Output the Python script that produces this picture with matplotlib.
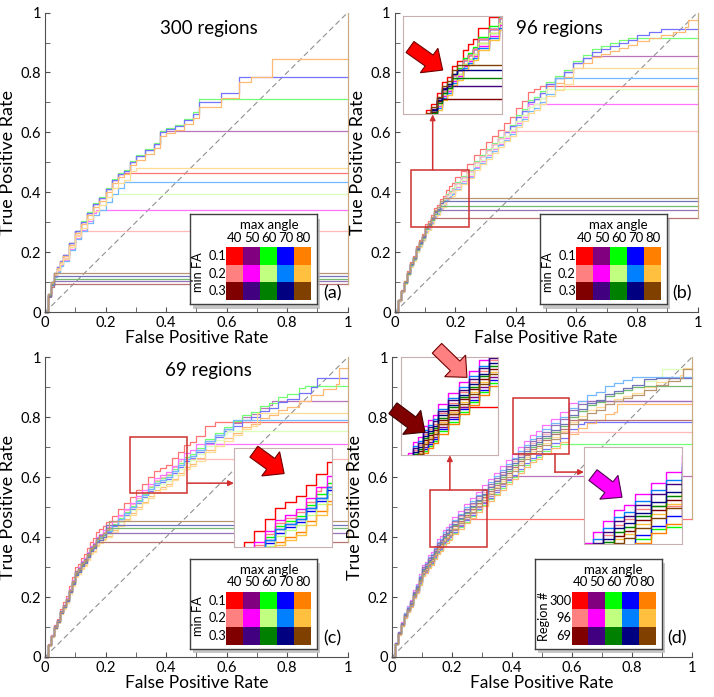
import matplotlib
matplotlib.use('Agg')
import matplotlib.pyplot as plt
import matplotlib.patches as mpatches
import matplotlib.colors as mcolors
import numpy as np

plt.rcParams['font.family'] = ['Lato', 'DejaVu Sans']

# colour of each curve: rows = min FA (or region #), columns = max angle
colors = [['#FF0000', '#800080', '#00FF00', '#0000FF', '#FF8000'],
          ['#FF8080', '#FF00FF', '#C0FF80', '#0080FF', '#FFC040'],
          ['#800000', '#400080', '#008000', '#000080', '#804000']]
angles = ['40', '50', '60', '70', '80']
fa_rows = ['0.1', '0.2', '0.3']
region_rows = ['300', '96', '69']

# panel (a): 300 regions
fpr_a = [0, .01, .02, .03, .04, .05, .06, .08, .1, .12, .14, .16, .18, .2, .22, .24, .26, .28, .3,
         .33, .36, .38, .4, .43, .46, .49, .51, .55, .58, .61, .64, .68, .75, 1.0]
tpr_a = [0, .06, .1, .13, .15, .17, .19, .23, .27, .3, .33, .36, .38, .41, .44, .46, .47, .5, .52,
         .54, .56, .6, .61, .62, .64, .66, .7, .7, .73, .73, .785, .8, .845, .845]
scale_a = [[1.0, 1.0, 1.01, 1.0, 0.98], [0.95, 0.92, 0.9, 0.9, 0.94], [0.85, 0.9, 0.95, 0.92, 1.0]]
end_fpr_a = [[0.27, 0.38, 0.51, 0.64, 0.75], [0.12, 0.17, 0.29, 0.26, 0.30], [0.04, 0.04, 0.045, 0.045, 0.035]]
end_tpr_a = [[0.465, 0.605, 0.71, 0.785, 0.845], [0.27, 0.34, 0.395, 0.435, 0.48], [0.095, 0.105, 0.11, 0.12, 0.13]]

# shared fpr grid for (b), (c), (d)
fpr_grid = [0, .01, .02, .03, .04, .05, .06, .07, .08, .09, .10, .11, .12, .13, .14, .15, .16, .17, .18, .19, .20,
            .22, .24, .26, .28, .30, .32, .34, .36, .38, .40, .42, .44, .46, .48, .50,
            .53, .56, .59, .62, .65, .68, .71, .74, .77, .80, .84, .88, .92, .96, 1.0]

# panel (b): 96 regions
tpr_b = [0, .04, .07, .1, .13, .16, .18, .21, .23, .25, .28, .29, .31, .33, .34, .36, .37, .39, .40, .41, .43,
         .45, .47, .50, .52, .54, .56, .58, .60, .62, .65, .67, .70, .71, .73, .76,
         .78, .80, .83, .85, .87, .88, .89, .90, .91, .925, .935, .945, .955, .97, .98]
scale_b = [[1.05, 1.0, 1.01, 1.0, 0.98], [1.0, 0.97, 0.98, 0.96, 0.95], [1.0, 1.02, 0.99, 1.01, 1.03]]
end_fpr_b = [[0.53, 0.65, 0.82, 0.88, 0.97], [0.36, 0.44, 0.50, 0.53, 0.59], [0.14, 0.15, 0.155, 0.165, 0.17]]
end_tpr_b = [[0.755, 0.855, 0.915, 0.945, 0.975], [0.605, 0.695, 0.745, 0.78, 0.815], [0.315, 0.34, 0.355, 0.37, 0.38]]

# panel (c): 69 regions
tpr_c = [0, .04, .07, .1, .12, .15, .17, .19, .22, .25, .28, .29, .31, .32, .34, .36, .37, .39, .40, .41, .42,
         .44, .46, .48, .50, .52, .54, .56, .58, .59, .60, .62, .64, .66, .67, .69,
         .72, .74, .76, .78, .80, .81, .83, .84, .86, .87, .89, .91, .93, .95, .965]
scale_c = [[1.07, 1.0, 1.01, 0.99, 0.96], [1.02, 1.03, 0.98, 1.0, 0.95], [1.0, 1.02, 0.99, 0.98, 1.01]]
end_fpr_c = [[0.62, 0.75, 0.86, 0.9, 0.97], [0.45, 0.5, 0.6, 0.62, 0.7], [0.18, 0.19, 0.2, 0.2, 0.21]]
end_tpr_c = [[0.785, 0.855, 0.905, 0.93, 0.965], [0.66, 0.71, 0.755, 0.79, 0.815], [0.385, 0.415, 0.43, 0.44, 0.455]]

# panel (d): region # comparison
tpr_d = [0, .045, .08, .11, .14, .16, .18, .21, .23, .26, .29, .30, .32, .33, .35, .37, .38, .40, .41, .42, .44,
         .46, .48, .50, .52, .54, .56, .58, .60, .62, .64, .66, .68, .70, .71, .73,
         .75, .77, .80, .82, .84, .85, .87, .88, .89, .90, .92, .935, .95, .96, .97]
scale_d = [[0.97, 0.96, 0.94, 0.95, 0.93], [1.02, 1.06, 1.0, 1.04, 0.98], [0.99, 1.03, 1.0, 1.01, 0.97]]
end_fpr_d = [[0.3, 0.42, 0.58, 0.64, 0.75], [0.55, 0.62, 0.9, 0.86, 0.97], [0.7, 0.72, 0.86, 0.9, 0.97]]
end_tpr_d = [[0.46, 0.605, 0.71, 0.785, 0.845], [0.75, 0.855, 0.96, 0.935, 0.965], [0.79, 0.855, 0.905, 0.93, 0.96]]

RED = '#D03030'


def pale(c, k=0.5):
    r, g, b = mcolors.to_rgb(c)
    return (r + (1 - r) * k, g + (1 - g) * k, b + (1 - b) * k)


def curve(fpr, tpr, s, ef, et):
    xs = [f for f in fpr if f < ef]
    ys = [min(t * s, et) for f, t in zip(fpr, tpr) if f < ef]
    return xs + [ef, 1], ys + [et, et]


def draw_curves(ax, fpr, tpr, scale, efpr, etpr, fade, lw, clip):
    for i in range(3):
        for j in range(5):
            x, y = curve(fpr, tpr, scale[i][j], efpr[i][j], etpr[i][j])
            ax.plot(x, y, drawstyle='steps-post', color=pale(colors[i][j], fade), lw=lw, clip_on=clip)
    # every curve closes at (1, 1): one shared vertical segment
    low = min(min(r) for r in etpr)
    ax.plot([1, 1], [low, 1], color=pale('#B08040', 0.35), lw=lw, clip_on=clip)
    ax.plot([0, 1], [0, 1], color='#909090', lw=0.8, linestyle=(0, (5, 3)), zorder=0)


def style(ax):
    ax.set_xlim(0, 1)
    ax.set_ylim(0, 1)
    ax.spines[['top', 'right']].set_visible(False)
    for s in ['left', 'bottom']:
        ax.spines[s].set_color('#505050')
    ticks = [0, 0.2, 0.4, 0.6, 0.8, 1]
    labs = ['0', '0.2', '0.4', '0.6', '0.8', '1']
    ax.set_xticks(ticks)
    ax.set_xticklabels(labs)
    ax.set_yticks(ticks)
    ax.set_yticklabels(labs)
    ax.set_xticks(np.arange(0.1, 1, 0.2), minor=True)
    ax.set_yticks(np.arange(0.1, 1, 0.2), minor=True)
    ax.tick_params(which='both', direction='in', length=3.5, color='#505050', labelsize=10.5, pad=3)
    ax.set_xlabel('False Positive Rate', fontsize=12.5, labelpad=0)
    ax.set_ylabel('True Positive Rate', fontsize=13, labelpad=3)


def color_key(ax, rows, row_title, tag):
    ax.add_patch(mpatches.Rectangle((0.488, 0.012), 0.422, 0.30, transform=ax.transAxes,
                                    fc='#B0B0B0', ec='none', alpha=0.7, zorder=8, clip_on=False))
    k = ax.inset_axes([0.478, 0.027, 0.422, 0.30], zorder=9)
    k.set_xlim(0, 1)
    k.set_ylim(0, 1)
    k.set_xticks([])
    k.set_yticks([])
    for s in k.spines.values():
        s.set_color('#404040')
        s.set_linewidth(1)
    cw, ch = 0.133, 0.198
    for i in range(3):
        for j in range(5):
            k.add_patch(mpatches.Rectangle((0.287 + j * cw, 0.637 - (i + 1) * ch), cw, ch,
                                           fc=colors[i][j], ec='none'))
        k.text(0.285, 0.637 - (i + 0.5) * ch, rows[i], ha='right', va='center', fontsize=9.2)
    for j in range(5):
        k.text(0.287 + (j + 0.5) * cw, 0.74, angles[j], ha='center', va='center', fontsize=9.5)
    k.text(0.62, 0.875, 'max angle', ha='center', va='center', fontsize=9.5)
    k.text(0.065, 0.36, row_title, ha='center', va='center', rotation=90, fontsize=9.2)
    ax.text(0.95, 0.063, tag, transform=ax.transAxes, ha='center', va='center', fontsize=13, zorder=10)


def zoom_inset(ax, bounds, xl, yl, fpr, tpr, scale, efpr, etpr):
    z = ax.inset_axes(bounds, zorder=6)
    draw_curves(z, fpr, tpr, scale, efpr, etpr, 0.0, 1.0, True)
    z.set_xlim(xl)
    z.set_ylim(yl)
    z.set_xticks([])
    z.set_yticks([])
    for s in z.spines.values():
        s.set_color('#C8B0B0')
    ax.add_patch(mpatches.Rectangle((xl[0], yl[0]), xl[1] - xl[0], yl[1] - yl[0],
                                    fc='none', ec=RED, lw=1.1, zorder=7))
    return z


def fat_arrow(ax, x0, y0, x1, y1, fc, ec):
    ax.add_patch(mpatches.FancyArrow(x0, y0, x1 - x0, y1 - y0, width=0.045, head_width=0.1,
                                     head_length=0.055, length_includes_head=True, fc=fc, ec=ec,
                                     lw=0.8, transform=ax.transAxes, zorder=12, clip_on=False))


def link(ax, x0, y0, x1, y1):
    ax.annotate('', xy=(x1, y1), xytext=(x0, y0),
                arrowprops=dict(arrowstyle='-|>', color=RED, lw=1.1, mutation_scale=8,
                                shrinkA=0, shrinkB=0), zorder=7)


fig = plt.figure(figsize=(7.14, 6.97), dpi=100)
ax_a = fig.add_axes([0.063, 0.552, 0.424, 0.430])
ax_b = fig.add_axes([0.553, 0.552, 0.424, 0.430])
ax_c = fig.add_axes([0.063, 0.0574, 0.424, 0.430])
ax_d = fig.add_axes([0.549, 0.0574, 0.420, 0.430])

FADE = 0.45

# (a)
draw_curves(ax_a, fpr_a, tpr_a, scale_a, end_fpr_a, end_tpr_a, FADE, 0.9, False)
style(ax_a)
ax_a.text(0.54, 0.947, '300 regions', transform=ax_a.transAxes, ha='center', va='center', fontsize=13.5)
color_key(ax_a, fa_rows, 'min FA', '(a)')

# (b)
draw_curves(ax_b, fpr_grid, tpr_b, scale_b, end_fpr_b, end_tpr_b, FADE, 0.9, False)
style(ax_b)
ax_b.text(0.545, 0.947, '96 regions', transform=ax_b.transAxes, ha='center', va='center', fontsize=13.5)
color_key(ax_b, fa_rows, 'min FA', '(b)')
zoom_inset(ax_b, [0.026, 0.66, 0.327, 0.33], (0.055, 0.245), (0.285, 0.475),
           fpr_grid, tpr_b, scale_b, end_fpr_b, end_tpr_b)
link(ax_b, 0.125, 0.475, 0.125, 0.66)
fat_arrow(ax_b, 0.05, 0.885, 0.158, 0.808, '#FF0000', '#700000')

# (c)
draw_curves(ax_c, fpr_grid, tpr_c, scale_c, end_fpr_c, end_tpr_c, FADE, 0.9, False)
style(ax_c)
ax_c.text(0.54, 0.957, '69 regions', transform=ax_c.transAxes, ha='center', va='center', fontsize=13.5)
color_key(ax_c, fa_rows, 'min FA', '(c)')
zoom_inset(ax_c, [0.624, 0.367, 0.323, 0.33], (0.28, 0.47), (0.547, 0.733),
           fpr_grid, tpr_c, scale_c, end_fpr_c, end_tpr_c)
link(ax_c, 0.47, 0.58, 0.624, 0.58)
fat_arrow(ax_c, 0.69, 0.685, 0.79, 0.612, '#FF0000', '#700000')

# (d)
draw_curves(ax_d, fpr_grid, tpr_d, scale_d, end_fpr_d, end_tpr_d, FADE, 0.9, False)
style(ax_d)
color_key(ax_d, region_rows, 'Region #', '(d)')
zoom_inset(ax_d, [0.03, 0.673, 0.323, 0.327], (0.127, 0.317), (0.367, 0.557),
           fpr_grid, tpr_d, scale_d, end_fpr_d, end_tpr_d)
zoom_inset(ax_d, [0.64, 0.377, 0.327, 0.323], (0.403, 0.59), (0.677, 0.863),
           fpr_grid, tpr_d, scale_d, end_fpr_d, end_tpr_d)
link(ax_d, 0.193, 0.557, 0.193, 0.673)
ax_d.plot([0.543, 0.543], [0.677, 0.617], color=RED, lw=1.1, zorder=7)
link(ax_d, 0.543, 0.617, 0.64, 0.617)
fat_arrow(ax_d, 0.15, 1.03, 0.25, 0.933, '#FF8080', '#700000')
fat_arrow(ax_d, 0.003, 0.83, 0.11, 0.75, '#800000', '#400000')
fat_arrow(ax_d, 0.67, 0.607, 0.767, 0.533, '#FF00FF', '#500050')

fig.savefig('out.png', dpi=100)
